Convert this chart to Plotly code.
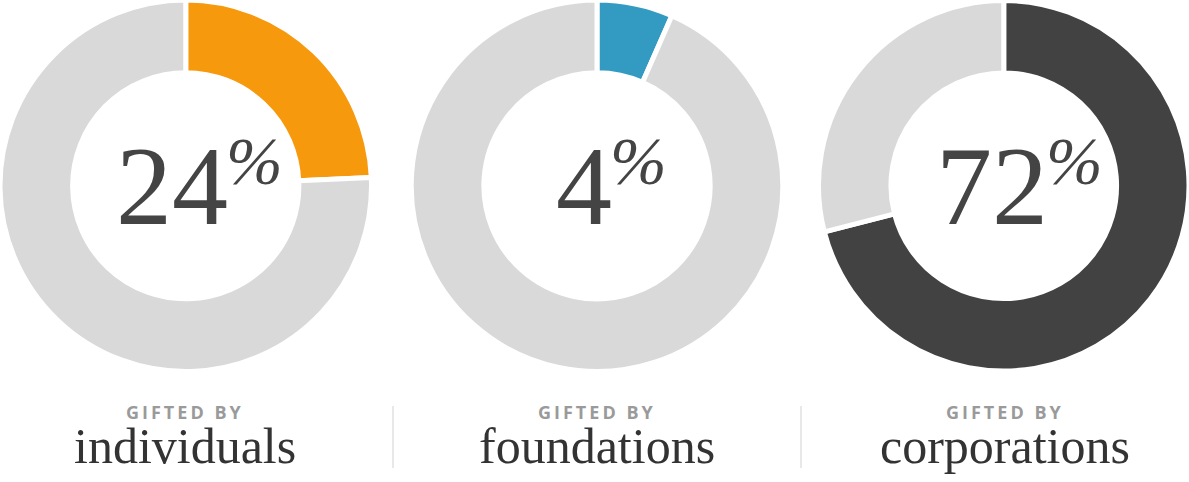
import plotly.graph_objects as go

# who gave the gifts
groups = ["individuals", "foundations", "corporations"]
pct_labels = [24, 4, 72]
# share of each ring as drawn (the small one is drawn bigger than its label)
drawn_share = [24.3, 6.6, 71.0]
colors = ["#F7990C", "#339BC1", "#424242"]
ring_gray = "#D9D9D9"

W, H = 1189, 482
centers = [185, 597, 1005]   # px, ring centres
R = 186.5                    # px, outer radius incl. white stroke
CY = 185

NUM_SIZE = 112
PCT_SIZE = 68

fig = go.Figure()

for i, g in enumerate(groups):
    cx = centers[i]
    share = drawn_share[i]
    fig.add_trace(go.Pie(
        values=[share, 100 - share],
        labels=[g, "rest"],
        marker=dict(colors=[colors[i], ring_gray], line=dict(color="white", width=5)),
        hole=0.609,
        sort=False,
        direction="clockwise",
        rotation=0,
        textinfo="none",
        hoverinfo="skip",
        showlegend=False,
        domain=dict(x=[max(0, (cx - R) / W), min(1, (cx + R) / W)],
                    y=[1 - (CY + R) / H, min(1, 1 - (CY - R) / H)]),
    ))

    # big number + raised italic % ; group roughly centred a bit right of the ring centre
    num = str(pct_labels[i])
    numw = len(num) * 0.5 * NUM_SIZE
    pctw = 50
    join = cx + 12 - (numw + pctw) / 2 + numw
    fig.add_annotation(
        x=(join + 2) / W, y=1 - (CY + 1) / H, xref="paper", yref="paper",
        text=num, showarrow=False, xanchor="right", yanchor="middle",
        font=dict(family="Liberation Serif", size=NUM_SIZE, color="#444444"),
    )
    fig.add_annotation(
        x=(join - 4) / W, y=1 - 161 / H, xref="paper", yref="paper",
        text="<i>%</i>", showarrow=False, xanchor="left", yanchor="middle",
        font=dict(family="Liberation Serif", size=PCT_SIZE, color="#444444"),
    )
    # caption
    fig.add_annotation(
        x=cx / W, y=1 - 412 / H, xref="paper", yref="paper",
        text="<span style='letter-spacing:3px'><b>GIFTED BY</b></span>",
        showarrow=False,
        xanchor="center", yanchor="middle",
        font=dict(family="Open Sans", size=18, color="#9A9A9A"),
    )
    fig.add_annotation(
        x=cx / W, y=1 - 446 / H, xref="paper", yref="paper",
        text=g, showarrow=False,
        xanchor="center", yanchor="middle",
        font=dict(family="Liberation Serif", size=50, color="#333333"),
    )

# thin dividers between captions
for xd in [393, 801]:
    fig.add_shape(type="line", xref="paper", yref="paper",
                  x0=xd / W, x1=xd / W, y0=1 - 406 / H, y1=1 - 468 / H,
                  line=dict(color="#E0E0E0", width=1.5))

fig.update_layout(
    width=W, height=H,
    margin=dict(l=0, r=0, t=0, b=0),
    paper_bgcolor="white",
    plot_bgcolor="white",
)

# page has a default 8px body margin, drop it
fig.write_html("out.html", config={"displayModeBar": False},
               post_script="document.body.style.margin='0px';")
